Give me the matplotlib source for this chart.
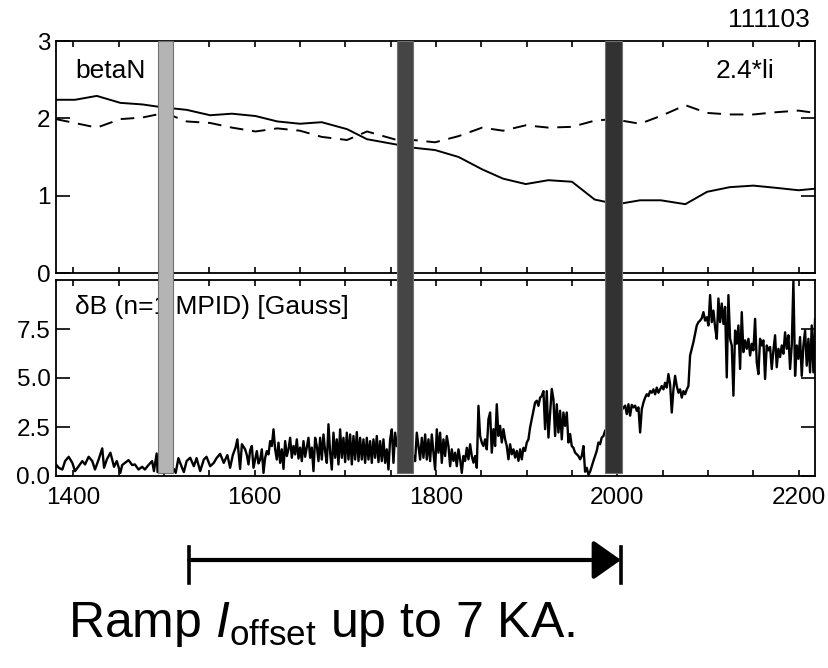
import numpy as np
import matplotlib
matplotlib.use("Agg")
import matplotlib.pyplot as plt
import matplotlib.transforms as mtransforms
from matplotlib.patches import Rectangle
from matplotlib.lines import Line2D
from matplotlib.ticker import MultipleLocator, FormatStrFormatter

plt.rcParams['font.family'] = ['Liberation Sans', 'DejaVu Sans']
plt.rcParams['mathtext.fontset'] = 'custom'
plt.rcParams['mathtext.rm'] = 'Liberation Sans'
plt.rcParams['mathtext.it'] = 'Liberation Sans:italic'

shot = "111103"

# top panel: betaN (solid) and 2.4*li (dashed), time in ms
t_beta = [1381, 1402, 1426, 1452, 1476, 1500, 1525, 1551, 1575, 1601, 1625, 1650,
          1674, 1702, 1724, 1757, 1775, 1799, 1825, 1851, 1874, 1899, 1924, 1950,
          1975, 1987, 2005, 2025, 2048, 2075, 2099, 2124, 2150, 2176, 2200, 2218]
betaN = [2.24, 2.24, 2.29, 2.20, 2.18, 2.14, 2.11, 2.04, 2.06, 2.03, 1.96, 1.93,
         1.95, 1.86, 1.73, 1.66, 1.62, 1.59, 1.50, 1.34, 1.22, 1.15, 1.20, 1.18,
         0.95, 0.92, 0.90, 0.94, 0.94, 0.89, 1.05, 1.11, 1.13, 1.10, 1.07, 1.09]

t_li = [1381, 1426, 1452, 1476, 1501, 1525, 1551, 1575, 1601, 1625, 1650, 1674,
        1702, 1724, 1757, 1775, 1799, 1825, 1851, 1874, 1899, 1924, 1950, 1975,
        1995, 2025, 2050, 2075, 2099, 2124, 2150, 2176, 2200, 2218]
li24 = [1.99, 1.88, 1.99, 2.01, 2.07, 1.96, 1.94, 1.88, 1.83, 1.87, 1.84, 1.76,
        1.72, 1.83, 1.72, 1.72, 1.69, 1.77, 1.88, 1.84, 1.91, 1.88, 1.89, 1.97,
        1.99, 1.93, 2.04, 2.17, 2.07, 2.05, 2.05, 2.08, 2.10, 2.07]

# bottom panel: dB (n=1 MPID) in Gauss
db_t1 = [1381, 1384, 1388, 1391, 1395, 1399, 1402, 1406, 1410, 1413, 1417, 1421,
         1424, 1428, 1432, 1434, 1437, 1441, 1445, 1448, 1452, 1454, 1457, 1461,
         1465, 1468, 1472, 1476, 1479, 1483, 1487, 1489, 1492, 1493, 1511, 1513,
         1516, 1520, 1522, 1525, 1529, 1533, 1536, 1540, 1544, 1547, 1551, 1555,
         1558, 1562, 1566, 1570, 1573, 1576, 1579, 1581, 1584, 1586]
db_v1 = [0.59, 0.42, 0.33, 0.76, 0.98, 0.67, 0.25, 0.50, 0.76, 0.59, 0.98, 0.76,
         0.33, 0.84, 1.41, 0.42, 0.84, 1.19, 0.47, 0.76, 0.16, 0.56, 0.67, 0.81,
         0.56, 0.59, 0.33, 0.47, 0.33, 0.56, 0.76, 0.25, 1.15, 0.20, 0.36, 0.16,
         0.91, 0.42, 0.20, 0.76, 0.93, 0.50, 0.91, 0.25, 0.84, 0.98, 0.50, 0.67,
         0.91, 1.13, 0.67, 1.07, 0.42, 1.07, 1.45, 1.87, 0.36, 1.62]

# later stretches sampled on a regular time base (start time, values)
db_dt = 1.8375
db_start2 = 1589.6
db_v2 = [1.36, 1.07, 0.59, 1.32, 1.53, 0.42, 0.84, 1.27, 0.64, 0.84,
         1.36, 0.16, 0.93, 1.27, 1.10, 1.78, 1.53, 2.38, 1.36, 0.84,
         1.70, 0.67, 1.36, 0.36, 1.78, 1.02, 1.36, 1.95, 0.93, 1.53,
         1.10, 1.87, 0.89, 1.45, 0.76, 1.78, 0.98, 1.45, 1.95, 0.93,
         1.45, 0.25, 1.95, 1.53, 0.76, 1.95, 0.84, 2.12, 1.27, 0.67,
         2.64, 1.19, 0.33, 2.21, 0.93, 1.87, 0.59, 2.38, 0.93, 1.95,
         0.71, 2.21, 0.84, 2.12, 0.59, 2.04, 0.84, 2.24, 0.76, 1.95,
         0.84, 1.87, 0.67, 1.95, 0.84, 1.78, 0.67, 1.87, 0.93, 2.04,
         0.71, 1.78, 0.76, 1.87, 0.67, 1.36, 0.33, 1.87, 2.38, 0.67,
         2.21, 1.53]
db_start3 = 1775.2
db_v3 = [1.02, 0.76, 2.21, 1.53, 0.84, 1.95, 0.93, 2.12, 0.84, 1.87,
         0.76, 2.12, 1.19, 0.33, 2.38, 1.19, 2.21, 0.67, 1.87, 1.02]
db_start4 = 1811.95
db_v4 = [2.04, 1.53, 0.50, 1.36, 0.77, 1.19, 0.50, 1.36, 0.85, 0.16,
         1.02, 0.77, 1.44, 0.85, 1.62, 1.02, 0.68, 1.02, 0.42, 3.58,
         2.04, 1.71, 1.53, 1.87, 1.36, 2.90, 3.24, 1.19, 2.39, 1.53,
         3.66, 2.04, 2.56, 1.71, 2.39, 1.87, 1.53, 0.85, 1.62, 1.11,
         1.36, 0.94, 1.28, 0.77, 1.36, 0.85, 1.44, 1.28, 1.71, 1.87,
         2.48, 2.90, 3.33, 3.75, 3.84, 3.58, 4.00, 4.08, 4.33, 2.39,
         4.33, 1.96, 3.24, 4.44, 3.92, 2.04, 3.66, 2.22, 3.33, 1.87,
         3.24, 2.56, 3.24, 1.71, 2.14, 1.53, 1.44, 1.19, 1.11, 1.02,
         0.85, 1.02, 1.53, 0.22, 0.42, 0.07, 0.22, 0.50, 0.77, 1.02,
         1.28, 1.71, 1.62, 1.96, 2.04, 2.31]
db_start5 = 2008.6
db_v5 = [3.59, 3.16, 3.66, 3.08, 3.63, 3.50, 3.59, 3.33, 3.50, 2.22,
         3.41, 3.75, 4.00, 4.17, 4.08, 4.33, 4.25, 4.42, 4.17, 4.51,
         4.25, 4.42, 4.59, 4.42, 4.76, 4.51, 5.20, 4.68, 3.24, 4.42,
         5.11, 4.59, 4.25, 4.42, 4.00, 4.33, 4.17, 4.42, 4.59, 6.15,
         6.49, 6.83, 7.26, 7.68, 7.85, 7.93, 8.05, 8.36, 7.93, 8.10,
         7.68, 9.23, 7.85, 8.44, 7.59, 7.00, 9.06, 7.85, 8.80, 7.76,
         8.63, 5.03, 9.23, 7.00, 6.66, 4.10, 7.42, 6.75, 7.68, 5.46,
         8.36, 6.32, 6.92, 6.49, 7.00, 6.15, 6.75, 6.41, 8.02, 5.80,
         5.20, 7.00, 6.66, 6.92, 4.95, 6.66, 6.41, 6.58, 5.46, 6.41,
         7.18, 5.55, 6.49, 6.07, 6.66, 6.24, 7.33, 6.49, 7.18, 5.46,
         6.66, 9.95, 5.11, 6.66, 5.98, 7.09, 5.11, 6.66, 7.42, 5.63,
         7.00, 5.29, 7.68, 5.29, 8.02, 5.11]

# highlighted time windows (ms) and their shading
windows = [(1494, 1510), (1757, 1775), (1986.5, 2005)]
window_colors = ['#b4b4b4', '#454545', '#323232']

# current offset ramp
ramp_start, ramp_end = 1528, 2004

xlim = (1381, 2218)

# build dB series
db_t = list(db_t1)
db_v = list(db_v1)
for start, vals in [(db_start2, db_v2), (db_start3, db_v3),
                    (db_start4, db_v4), (db_start5, db_v5)]:
    db_t += list(start + db_dt * np.arange(len(vals)))
    db_v += vals

W, H = 829, 668
fig = plt.figure(figsize=(W / 100, H / 100), dpi=100)

def frac_box(left, top, right, bottom):
    return [left / W, 1 - bottom / H, (right - left) / W, (bottom - top) / H]

ax1 = fig.add_axes(frac_box(56, 41, 815, 273))
ax2 = fig.add_axes(frac_box(56, 280, 815, 476))

ax1.plot(t_beta, betaN, color='black', lw=1.4, zorder=2)
ax1.plot(t_li, li24, color='black', lw=1.4, linestyle=(0, (7, 4.5)), zorder=2)
ax1.set_ylim(0, 3)
ax1.set_yticks([0, 1, 2, 3])

ax2.plot(db_t, db_v, color='black', lw=1.7, zorder=2)
ax2.set_ylim(0, 10)
ax2.set_yticks([0, 2.5, 5, 7.5])
ax2.yaxis.set_major_formatter(FormatStrFormatter('%.1f'))
ax2.set_xticks([1400, 1600, 1800, 2000, 2200])

for ax in (ax1, ax2):
    ax.set_xlim(*xlim)
    ax.xaxis.set_minor_locator(MultipleLocator(50))
    ax.tick_params(which='both', direction='in', top=True, right=True,
                   width=1.2, labelsize=17.5, colors='black')
    ax.tick_params(axis='y', length=10, pad=4)
    ax.tick_params(axis='x', which='both', length=4.5, pad=8)
    for sp in ax.spines.values():
        sp.set_linewidth(1.3)
ax1.tick_params(axis='x', labelbottom=False)

# shaded windows spanning both panels
trans = mtransforms.blended_transform_factory(ax2.transData, fig.transFigure)
y_lo, y_hi = 1 - 473 / H, 1 - 41 / H
for (a, b), c in zip(windows, window_colors):
    fig.add_artist(Rectangle((a, y_lo), b - a, y_hi - y_lo, transform=trans,
                             facecolor=c, edgecolor='#707070', lw=0.8, zorder=5))

ax1.text(0.025, 0.87, 'betaN', transform=ax1.transAxes, fontsize=19,
         va='center', ha='left')
ax1.text(0.947, 0.87, '2.4*li', transform=ax1.transAxes, fontsize=19,
         va='center', ha='right')
ax1.text(0.993, 1.09, shot, transform=ax1.transAxes, fontsize=19,
         va='center', ha='right')
ax2.text(0.025, 0.862, 'δB (n=1 MPID) [Gauss]', transform=ax2.transAxes,
         fontsize=19, va='center', ha='left', zorder=1)

# ramp arrow
y_arr = 1 - 560 / H
ax2.annotate('', xy=(ramp_end, y_arr), xycoords=trans,
             xytext=(ramp_start, y_arr), textcoords=trans,
             annotation_clip=False,
             arrowprops=dict(arrowstyle='-|>,head_length=0.85,head_width=0.6',
                             lw=3, color='black', shrinkA=0, shrinkB=0,
                             mutation_scale=20))
for xe in (ramp_start, ramp_end):
    fig.add_artist(Line2D([xe, xe], [1 - 547 / H, 1 - 583 / H], transform=trans,
                          color='black', lw=2.6))

fig.text(321 / W, 1 - 637 / H, r'Ramp $I_{\mathrm{offset}}$ up to 7 KA.',
         fontsize=36, ha='center', va='baseline')

fig.savefig('out.png', dpi=100)
